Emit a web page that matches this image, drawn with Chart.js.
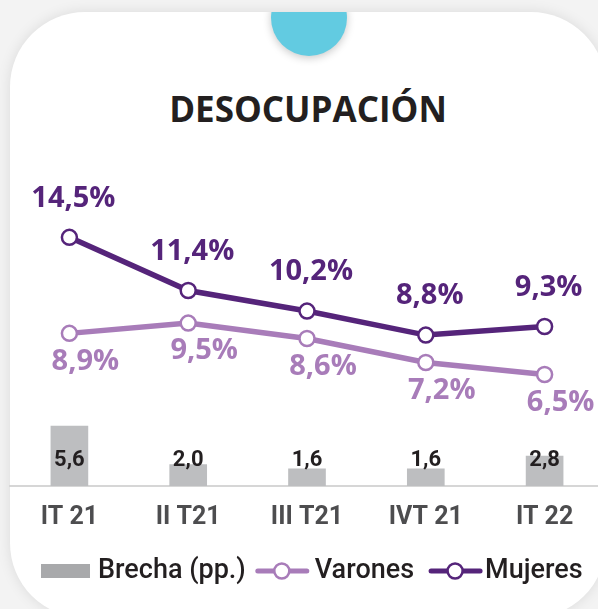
<!DOCTYPE html>
<html lang="es">
<head>
  <meta charset="UTF-8">
  <title>Desocupación</title>
  <style>
    html, body {
      margin: 0;
      padding: 0;
      width: 598px;
      height: 609px;
      overflow: hidden;
      background: #f3f3f3;
    }
    #card {
      position: absolute;
      left: 10px;
      top: 12px;
      width: 596px;
      height: 606px;
      background: #fff;
      border-radius: 75px;
      box-shadow: 0 0 14px rgba(0, 0, 0, 0.10);
      overflow: hidden;
    }
    #dot {
      position: absolute;
      left: 261px;
      top: -32px;
      width: 76px;
      height: 76px;
      border-radius: 50%;
      background: #62cbe1;
      box-shadow: 0 2px 8px rgba(0, 0, 0, 0.22);
    }
    #card h1 {
      position: absolute;
      left: 0;
      width: 596px;
      top: 80px;
      margin: 0;
      text-align: center;
      font: bold 35px/34px "Open Sans", sans-serif;
      color: #231f20;
    }
    canvas#chart {
      position: absolute;
      left: 0;
      top: 0;
    }
  </style>
  <script src="https://cdn.jsdelivr.net/npm/chart.js"></script>
</head>
<body>
  <div id="card">
    <div id="dot"></div>
    <h1>DESOCUPACIÓN</h1>
  </div>
  <canvas id="chart" width="620" height="609"></canvas>

  <script>
    const labels = ["IT 21", "II T21", "III T21", "IVT 21", "IT 22"];
    const brecha = [5.6, 2.0, 1.6, 1.6, 2.8];
    const varones = [8.9, 9.5, 8.6, 7.2, 6.5];
    const mujeres = [14.5, 11.4, 10.2, 8.8, 9.3];

    const purple = "#55247a";
    const lilac = "#a87cb9";
    const barGray = "#bdbec0";
    const dark = "#231f20";

    const fmt = v => v.toFixed(1).replace(".", ",");

    // value labels: % above/below the points, plain numbers on the bars
    const valueLabels = {
      id: "valueLabels",
      afterDatasetsDraw(chart) {
        const ctx = chart.ctx;
        ctx.save();
        ctx.textAlign = "center";
        ctx.textBaseline = "middle";
        chart.data.datasets.forEach((ds, i) => {
          const meta = chart.getDatasetMeta(i);
          meta.data.forEach((el, j) => {
            const v = ds.data[j];
            if (ds.type === "bar") {
              ctx.font = "bold 22px Roboto";
              ctx.fillStyle = dark;
              ctx.fillText(fmt(v), el.x, chart.chartArea.bottom - 26);
            } else if (ds.label === "Mujeres") {
              ctx.font = "bold 29px 'Open Sans'";
              ctx.fillStyle = purple;
              ctx.fillText(fmt(v) + "%", el.x + 4, el.y - 39);
            } else {
              ctx.font = "bold 29px 'Open Sans'";
              ctx.fillStyle = lilac;
              ctx.fillText(fmt(v) + "%", el.x + 16, el.y + 28);
            }
          });
        });
        ctx.restore();
      }
    };

    // legend drawn by hand: gray box, then line-with-circle markers
    const customLegend = {
      id: "customLegend",
      afterDraw(chart) {
        const ctx = chart.ctx;
        const y = 571;
        let x = 41;
        ctx.save();
        ctx.font = "500 27px Roboto";
        ctx.textBaseline = "middle";
        ctx.textAlign = "left";

        ctx.fillStyle = "#a8a9ab";
        ctx.fillRect(x, y - 7, 49, 14);
        x += 49 + 8;
        ctx.fillStyle = dark;
        ctx.fillText("Brecha (pp.)", x, y);
        x += ctx.measureText("Brecha (pp.)").width + 10;

        const marker = (color) => {
          ctx.strokeStyle = color;
          ctx.lineWidth = 5;
          ctx.lineCap = "round";
          ctx.beginPath();
          ctx.moveTo(x + 2, y);
          ctx.lineTo(x + 51, y);
          ctx.stroke();
          ctx.beginPath();
          ctx.arc(x + 26, y, 7.5, 0, Math.PI * 2);
          ctx.fillStyle = "#fff";
          ctx.fill();
          ctx.lineWidth = 2.5;
          ctx.stroke();
        };

        marker(lilac);
        x += 53 + 6;
        ctx.fillStyle = dark;
        ctx.fillText("Varones", x, y);
        x += ctx.measureText("Varones").width + 15;

        marker(purple);
        x += 53 + 3;
        ctx.fillStyle = dark;
        ctx.fillText("Mujeres", x, y);
        ctx.restore();
      }
    };

    new Chart(document.getElementById("chart"), {
      data: {
        labels: labels,
        datasets: [
          {
            type: "line",
            label: "Mujeres",
            data: mujeres,
            yAxisID: "y",
            borderColor: purple,
            borderWidth: 5.5,
            pointRadius: 7.5,
            pointBorderWidth: 2.5,
            pointBackgroundColor: "#fff",
            pointBorderColor: purple,
            order: 1
          },
          {
            type: "line",
            label: "Varones",
            data: varones,
            yAxisID: "y",
            borderColor: lilac,
            borderWidth: 5.5,
            pointRadius: 7.5,
            pointBorderWidth: 2.5,
            pointBackgroundColor: "#fff",
            pointBorderColor: lilac,
            order: 2
          },
          {
            type: "bar",
            label: "Brecha (pp.)",
            data: brecha,
            yAxisID: "y2",
            backgroundColor: barGray,
            barThickness: 37,
            order: 3
          }
        ]
      },
      options: {
        responsive: false,
        animation: false,
        layout: { padding: { top: 143, left: 10, right: 16, bottom: 63 } },
        plugins: {
          legend: { display: false },
          tooltip: { enabled: false }
        },
        scales: {
          x: {
            offset: true,
            grid: { color: "transparent", drawTicks: false },
            border: { color: "#d6d6d6", width: 2 },
            ticks: {
              color: "#4d4d4f",
              font: { family: "Roboto", weight: "bold", size: 25 },
              padding: 17
            },
            afterFit(scale) { scale.height = 60; }
          },
          y: { display: false, min: 0, max: 20 },
          y2: { display: false, min: 0, max: 32 }
        }
      },
      plugins: [valueLabels, customLegend]
    });
  </script>
</body>
</html>
